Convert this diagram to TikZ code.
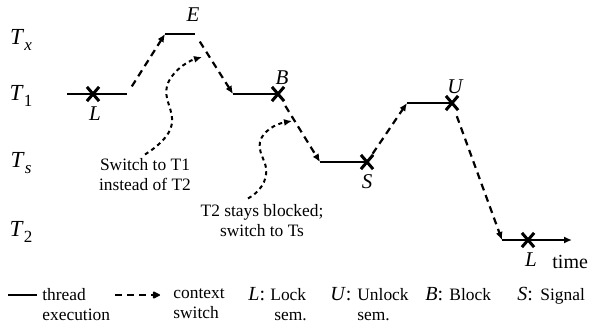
\documentclass[tikz,border=0pt]{standalone}
\usepackage{fontspec}
\setmainfont{Liberation Serif}
\usetikzlibrary{arrows.meta,shapes.misc}

\tikzset{
	threadrun/.style={line width=0.8pt},
	ctxswitch/.style={line width=1.1pt, dash pattern=on 3.5pt off 2.5pt, -{Latex[length=4pt,width=3.5pt]}},
	hintarrow/.style={line width=1pt, dash pattern=on 2pt off 1.8pt, -{Latex[length=4pt,width=3.5pt]}},
	xmark/.style={cross out, draw, line width=1.5pt, minimum width=4.6pt, minimum height=5.6pt, inner sep=0pt},
	tlbl/.style={font=\fontsize{11.5}{12}\selectfont, inner sep=0pt},
	lbl/.style={font=\fontsize{10.5}{12}\selectfont\itshape, inner sep=1pt},
	txt/.style={font=\fontsize{8.7}{10}\selectfont, align=center, inner sep=0pt},
	keytxt/.style={font=\fontsize{8.7}{10}\selectfont, align=left, inner sep=0pt, anchor=north west}
}

\begin{document}
\begin{tikzpicture}[x=0.5pt,y=-0.5pt]
	\useasboundingbox (0,0) rectangle (597,327);
	
	% thread levels
	\foreach \lev/\name/\sub in {40/tx/\textit{x},96/tone/1,163/ts/\textit{s},232/ttwo/2} {
		\node[tlbl] (\name) at (21,\lev) {\textit{T}\raisebox{-3pt}{\fontsize{8.5}{8}\selectfont\sub}};
	}
	
	% thread execution
	\foreach \x/\xx/\y [count=\i] in {67/127/94,165/195/34,233/278/94,320/367/162,407/452/103} {
		\draw[threadrun] (\x,\y) coordinate (s\i a) -- (\xx,\y) coordinate (s\i b);
	}
	\draw[threadrun, -{Latex[length=4pt,width=3.5pt]}] (502,240) coordinate (s6a) -- (572,240) coordinate (s6b);
	
	% context switches
	\draw[ctxswitch, shorten <=4.5pt] (s1b) -- (s2a);
	\draw[ctxswitch, shorten <=4.5pt] (s2b) -- (s3a);
	\draw[ctxswitch, shorten <=7pt] (s3b) -- (s4a);
	\draw[ctxswitch, shorten <=5pt] (s4b) -- (s5a);
	\draw[ctxswitch, shorten <=7pt] (s5b) -- (s6a);
	
	% semaphore events
	\node[xmark] (lock) at (93,94) {};
	\node[xmark] (block) at (278,94) {};
	\node[xmark] (signal) at (367,162) {};
	\node[xmark] (unlock) at (452,103) {};
	\node[xmark] (relock) at (528,240) {};
	
	\node[lbl, anchor=north] (lockl) at ([xshift=1pt,yshift=-1.5pt]lock.south) {L};
	\node[lbl] (entl) at (193,15) {E};
	\node[lbl, anchor=south] (blockl) at ([xshift=2pt]block.north) {B};
	\node[lbl, anchor=north] (signall) at ([yshift=-1.5pt]signal.south) {S};
	\node[lbl, anchor=south] (unlockl) at ([xshift=1.5pt]unlock.north) {U};
	\node[lbl, anchor=north] (relockl) at ([xshift=1.5pt,yshift=-1.5pt]relock.south) {L};
	\node[txt, font=\fontsize{10}{12}\selectfont, anchor=west] (timel) at (552,262) {time};
	
	% remarks
	\node[txt] (hint1) at (145,175) {Switch to T1\\instead of T2};
	\node[txt] (hint2) at (262,221) {T2 stays blocked;\\switch to Ts};
	\coordinate (h1end) at (202,57);
	\coordinate (h2end) at (292,121);
	\draw[hintarrow] ([yshift=2pt]hint1.north) .. controls (160,145) and (174,132) .. (172,118)
		.. controls (171,106) and (164,98) .. (167,86) .. controls (170,74) and (185,62) .. (h1end);
	\draw[hintarrow] ([xshift=-7pt,yshift=3pt]hint2.north) .. controls (258,193) and (268,182) .. (266,168)
		.. controls (265,160) and (258,152) .. (260,142) .. controls (262,132) and (275,124) .. (h2end);
	
	% key
	\draw[threadrun] (8,295) coordinate (k1a) -- (37,295) coordinate (k1b);
	\node[keytxt] (kthread) at (42,288) {thread\\execution};
	\draw[ctxswitch, -{Latex[round,length=4.5pt,width=4.5pt]}] (115,295) coordinate (k2a) -- (160,295) coordinate (k2b);
	\node[keytxt] (kctx) at (173,288) {context\\switch};
	\foreach \xk/\xd/\key/\desc in {248/270/L/{Lock\\\hspace{2pt}sem.},330/357/U/{Unlock\\sem.},425/449/B/Block,517/540/S/Signal} {
		\node[keytxt, font=\fontsize{10}{12}\selectfont] (k\key) at (\xk,287) {\textit{\key}:};
		\node[keytxt] (d\key) at (\xd,288) {\desc};
	}
\end{tikzpicture}
\end{document}
